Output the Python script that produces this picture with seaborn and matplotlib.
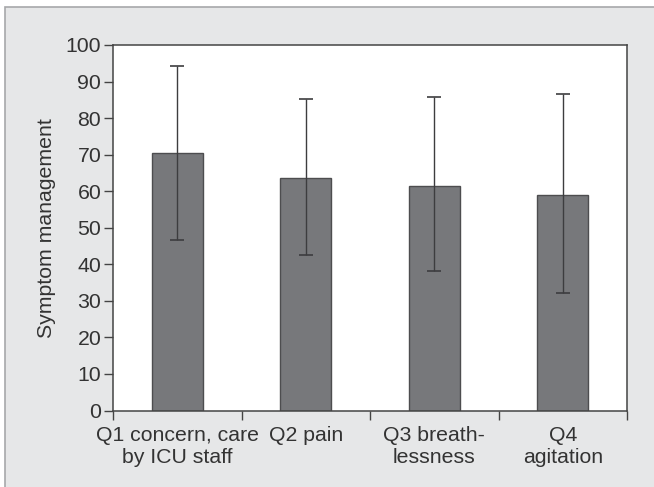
import numpy as np
import pandas as pd
import matplotlib
matplotlib.use("Agg")
import matplotlib.pyplot as plt
from matplotlib.patches import Rectangle
import seaborn as sns

categories = ["Q1 concern, care\nby ICU staff", "Q2 pain", "Q3 breath-\nlessness", "Q4\nagitation"]
means = [70.5, 63.6, 61.4, 58.9]
sd_upper = [23.7, 21.6, 24.4, 27.6]
sd_lower = [23.9, 21.0, 23.2, 26.7]
y_ticks = [0, 10, 20, 30, 40, 50, 60, 70, 80, 90, 100]
y_label = "Symptom management"

sns.set_theme(style="white")
plt.rcParams["font.family"] = ["Liberation Sans", "DejaVu Sans"]

fs = 15.3
fig = plt.figure(figsize=(6.54, 4.87), dpi=100, facecolor="white")
bg = Rectangle((5.5 / 654, -0.05), 1.2, 1.05 - 6.5 / 487, transform=fig.transFigure,
               facecolor="#e6e7e8", edgecolor="#a7a8aa", linewidth=1.2, zorder=-10)
fig.add_artist(bg)

ax = fig.add_axes([113 / 654, 1 - 410.5 / 487, (627 - 113) / 654, (410.5 - 45) / 487])
ax.set_zorder(1)
ax.set_facecolor("white")

df = pd.DataFrame({"cat": categories, "mean": means})
sns.barplot(data=df, x="cat", y="mean", ax=ax, color="#77787b", saturation=1,
            width=0.4, edgecolor="#4d4d4f", linewidth=1.0, errorbar=None)

pos = np.arange(len(categories))
ax.errorbar(pos, means, yerr=[sd_lower, sd_upper], fmt="none", ecolor="#3d3d3f",
            elinewidth=1.0, capsize=5, capthick=1.2, zorder=5)

ax.set_xlim(-0.5, len(categories) - 0.5)
ax.set_ylim(0, 100)
ax.set_yticks(y_ticks)
ax.set_yticklabels([str(t) for t in y_ticks], fontsize=fs, color="#333333")
ax.set_xticks(np.arange(-0.5, len(categories), 1.0))
ax.set_xticklabels([])
ax.set_xticks(pos, minor=True)
ax.set_xticklabels(categories, minor=True, fontsize=fs, color="#333333")
ax.tick_params(axis="x", which="major", length=6.5, width=1.0, color="#444444", direction="out", bottom=True)
ax.tick_params(axis="x", which="minor", length=0, pad=11)
ax.tick_params(axis="y", length=6.5, width=1.0, color="#444444", direction="out", left=True, pad=2)
ax.set_xlabel("")
ax.set_ylabel(y_label, fontsize=fs, color="#333333", labelpad=7)

for s in ax.spines.values():
    s.set_visible(True)
    s.set_color("#444444")
    s.set_linewidth(1.1)

fig.savefig("out.png", dpi=100, facecolor="white")
